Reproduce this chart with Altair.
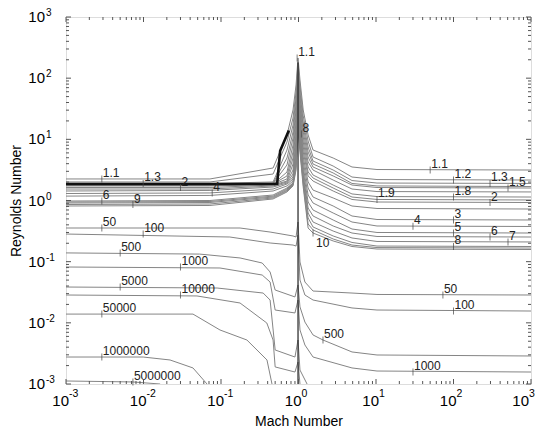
import altair as alt
import pandas as pd

# ---------------- data ----------------
# upper family of contours (levels 1.1 ... 10), shared Mach grid
mach_upper = [0.001, 0.072, 0.47, 0.71, 0.85, 0.93, 0.986, 1.045, 1.15, 1.33, 1.54, 2.8, 4.9, 10.3, 1000]
re_1_1 = [2.25, 2.25, 3.40, 11.8, 30.2, 77.3, 214, 93.3, 30.2, 11.8, 6.69, 4.95, 3.53, 3.21, 3.15]
re_1_2 = [2.01, 2.01, 2.71, 9.04, 22.3, 59.4, 184, 74.4, 24.1, 9.39, 5.14, 3.66, 2.42, 2.20, 2.16]
re_1_3 = [1.90, 1.90, 2.01, 6.69, 17.1, 47.4, 158, 59.4, 19.2, 7.49, 4.42, 3.15, 2.12, 1.93, 1.90]
re_1_4 = [1.86, 1.86, 1.93, 4.95, 13.2, 37.8, 136, 49.2, 15.9, 6.21, 3.95, 2.82, 1.90, 1.73, 1.69]
re_1_5 = [1.83, 1.83, 1.90, 3.81, 10.5, 30.2, 117, 40.8, 13.2, 5.14, 3.53, 2.52, 1.79, 1.63, 1.60]
re_1_6 = [1.79, 1.79, 1.86, 2.92, 8.08, 24.1, 101, 33.8, 10.9, 4.26, 3.15, 2.16, 1.54, 1.40, 1.38]
re_1_8 = [1.76, 1.76, 1.86, 2.52, 6.21, 19.2, 86.5, 28.0, 9.04, 3.53, 2.61, 1.79, 1.28, 1.16, 1.14]
re_1_9 = [1.73, 1.73, 1.83, 2.25, 4.95, 15.3, 74.4, 24.1, 7.49, 2.92, 2.33, 1.60, 1.14, 1.04, 1.02]
re_2 = [1.63, 1.63, 1.79, 2.08, 3.95, 12.2, 64.0, 20.7, 6.21, 2.52, 2.08, 1.43, 1.04, 0.945, 0.927]
re_2_5 = [1.54, 1.54, 1.73, 2.01, 3.15, 9.75, 53.0, 17.8, 5.14, 2.01, 1.48, 1.10, 0.813, 0.740, 0.726]
re_3 = [1.43, 1.46, 1.66, 1.93, 2.71, 7.78, 43.9, 15.3, 4.26, 1.60, 1.14, 0.813, 0.558, 0.489, 0.480]
re_4 = [1.30, 1.33, 1.54, 1.86, 2.42, 6.69, 36.4, 13.2, 3.53, 1.23, 0.910, 0.625, 0.445, 0.383, 0.376]
re_5 = [1.18, 1.21, 1.43, 1.73, 2.25, 5.76, 30.2, 11.3, 3.04, 0.945, 0.699, 0.480, 0.342, 0.300, 0.294]
re_6 = [0.981, 1.00, 1.23, 1.60, 2.08, 4.95, 25.9, 9.75, 2.61, 0.754, 0.558, 0.383, 0.294, 0.258, 0.253]
re_7 = [0.945, 0.963, 1.18, 1.54, 1.93, 4.42, 22.3, 8.71, 2.33, 0.625, 0.445, 0.317, 0.244, 0.214, 0.210]
re_8 = [0.910, 0.927, 1.14, 1.48, 1.86, 3.95, 19.2, 7.78, 2.08, 0.518, 0.369, 0.263, 0.206, 0.180, 0.177]
re_9 = [0.860, 0.877, 1.10, 1.43, 1.79, 3.53, 16.5, 6.95, 1.86, 0.413, 0.330, 0.235, 0.187, 0.170, 0.167]
re_10 = [0.813, 0.829, 1.06, 1.38, 1.73, 3.15, 14.2, 6.21, 1.66, 0.355, 0.294, 0.218, 0.177, 0.161, 0.158]

# the bold (dark) contour on the subsonic side
mach_bold = [0.001, 0.53, 0.58, 0.75]
re_bold = [1.86, 1.86, 6.5, 14.0]

# lower family of contours (levels 50 ... 5000000)
mach_50 = [0.001, 0.176, 0.43, 0.85, 0.93, 0.986, 1.045, 1.21, 1.54, 4.9, 10.3, 1000]
re_50 = [0.355, 0.355, 0.305, 0.263, 0.253, 0.445, 0.0988, 0.0465, 0.0331, 0.0307, 0.0291, 0.0285]
mach_100 = [0.001, 0.13, 0.43, 0.85, 0.93, 0.986, 1.045, 1.21, 1.54, 4.9, 10.3, 1000]
re_100 = [0.283, 0.253, 0.202, 0.187, 0.180, 0.273, 0.0501, 0.0285, 0.0236, 0.0175, 0.0162, 0.0156]
mach_500 = [0.001, 0.053, 0.176, 0.34, 0.43, 0.50, 0.90, 0.986, 1.045, 1.21, 1.54, 2.07, 4.9, 10.3, 1000]
re_500 = [0.139, 0.133, 0.115, 0.0951, 0.0678, 0.0344, 0.0265, 0.0416, 0.0182, 0.0103, 0.00633, 0.00524, 0.00334, 0.00298, 0.00287]
mach_1000 = [0.001, 0.097, 0.34, 0.43, 0.50, 0.90, 0.986, 1.045, 1.21, 1.54, 4.9, 10.3, 1000]
re_1000 = [0.0818, 0.0788, 0.0605, 0.0465, 0.0162, 0.0145, 0.0236, 0.00764, 0.00434, 0.00276, 0.00183, 0.00163, 0.00157]
mach_5000 = [0.001, 0.089, 0.35, 0.43, 0.50, 0.90, 0.986, 1.045, 1.29]
re_5000 = [0.0385, 0.0371, 0.0307, 0.0236, 0.00360, 0.00276, 0.00524, 0.00169, 0.001]
mach_10000 = [0.001, 0.049, 0.176, 0.39, 0.47, 0.50, 0.90, 0.986, 1.045]
re_10000 = [0.0285, 0.0275, 0.0211, 0.00994, 0.00524, 0.00190, 0.00157, 0.00229, 0.001]
mach_50000 = [0.001, 0.0435, 0.097, 0.216, 0.392, 0.455]
re_50000 = [0.0139, 0.0139, 0.00764, 0.00524, 0.00247, 0.001]
mach_1e6 = [0.001, 0.0099, 0.022, 0.0435, 0.066]
re_1e6 = [0.00276, 0.00276, 0.00247, 0.00183, 0.001]
mach_5e6 = [0.001, 0.0073, 0.0164]
re_5e6 = [0.00112, 0.00108, 0.001]

# the dense sonic line
mach_sonic = [0.986, 0.986]
re_sonic = [0.001, 180]

# contour labels
label_text = ["1.1", "1.3", "2", "4", "6", "9",
              "1.1", "8",
              "1.1", "1.2", "1.3", "1.5", "1.8", "1.9", "2", "3", "4", "5", "6", "7", "8",
              "50", "100", "500", "1000", "5000", "10000", "50000", "1000000", "5000000",
              "50", "100", "500", "1000"]
label_mach = [0.0029, 0.0099, 0.03, 0.077, 0.0029, 0.0073,
              0.96, 1.09,
              50, 100, 296, 505, 100, 10.3, 296, 100, 30, 100, 296, 505, 100,
              0.0029, 0.0099, 0.005, 0.03, 0.005, 0.03, 0.0029, 0.0029, 0.0073,
              73, 100, 2.07, 30]
label_re = [2.25, 1.90, 1.63, 1.33, 0.981, 0.860,
            214, 12.2,
            3.15, 2.16, 1.90, 1.60, 1.14, 1.04, 0.927, 0.480, 0.380, 0.294, 0.253, 0.210, 0.177,
            0.355, 0.283, 0.139, 0.0818, 0.0385, 0.0285, 0.0139, 0.00276, 0.00108,
            0.0285, 0.0156, 0.00524, 0.00157]
label10_mach = [1.54]
label10_re = [0.294]

# axes
decade_exp = [-3, -2, -1, 0, 1, 2, 3]
minor_mult = [2, 3, 4, 5, 6, 7, 8, 9]

# ---------------- assemble tables ----------------
upper = [("1.1", re_1_1), ("1.2", re_1_2), ("1.3", re_1_3), ("1.4", re_1_4), ("1.5", re_1_5),
         ("1.6", re_1_6), ("1.8", re_1_8), ("1.9", re_1_9), ("2", re_2), ("2.5", re_2_5),
         ("3", re_3), ("4", re_4), ("5", re_5), ("6", re_6), ("7", re_7), ("8", re_8),
         ("9", re_9), ("10", re_10)]
lower = [("50", mach_50, re_50), ("100", mach_100, re_100), ("500", mach_500, re_500),
         ("1000", mach_1000, re_1000), ("5000", mach_5000, re_5000),
         ("10000", mach_10000, re_10000), ("50000", mach_50000, re_50000),
         ("1000000", mach_1e6, re_1e6), ("5000000", mach_5e6, re_5e6)]

rows = []
for lev, res in upper:
    for i, (m, r) in enumerate(zip(mach_upper, res)):
        rows.append({"level": "u" + lev, "M": m, "Re": r, "i": i})
for lev, ms, res in lower:
    for i, (m, r) in enumerate(zip(ms, res)):
        rows.append({"level": "l" + lev, "M": m, "Re": r, "i": i})
lines_df = pd.DataFrame(rows)
bold_df = pd.DataFrame({"M": mach_bold, "Re": re_bold, "i": list(range(len(mach_bold)))})
sonic_df = pd.DataFrame({"M": mach_sonic, "Re": re_sonic, "i": [0, 1]})
labels_df = pd.DataFrame({"t": label_text, "M": label_mach, "Re": label_re})
label10_df = pd.DataFrame({"t": ["10"], "M": label10_mach, "Re": label10_re})

dec_df = pd.DataFrame({"v": [10.0 ** e for e in decade_exp],
                       "exp": [str(e) for e in decade_exp]})
dec_inner_df = dec_df.iloc[:-1]
dec_last_df = dec_df.iloc[-1:]
minor_df = pd.DataFrame({"v": [k * 10.0 ** e for e in decade_exp[:-1] for k in minor_mult]})

W, H = 465, 367
FONT = "Liberation Sans"
GREY = "#858585"
AX = "#555555"

xs = alt.Scale(type="log", domain=[0.001, 1000], nice=False)
ys = alt.Scale(type="log", domain=[0.001, 1000], nice=False)

x_axis = alt.Axis(title="Mach Number", labels=False, ticks=False, domain=False, grid=False,
                  titleFont=FONT, titleFontSize=14, titleFontWeight="normal", titleColor="black",
                  titleY=41, titleBaseline="alphabetic")
y_axis = alt.Axis(title="Reynolds Number", labels=False, ticks=False, domain=False, grid=False,
                  titleFont=FONT, titleFontSize=14, titleFontWeight="normal", titleColor="black",
                  titleX=-46, titleBaseline="alphabetic")

lines = alt.Chart(lines_df).mark_line(color=GREY, strokeWidth=1, clip=True).encode(
    x=alt.X("M:Q", scale=xs, axis=x_axis),
    y=alt.Y("Re:Q", scale=ys, axis=y_axis),
    detail="level:N",
    order="i:Q",
)
bold = alt.Chart(bold_df).mark_line(color="#111111", strokeWidth=2.6, clip=True).encode(
    x=alt.X("M:Q", scale=xs), y=alt.Y("Re:Q", scale=ys), order="i:Q")
sonic = alt.Chart(sonic_df).mark_line(color="#222222", strokeWidth=1.2, clip=True).encode(
    x=alt.X("M:Q", scale=xs), y=alt.Y("Re:Q", scale=ys), order="i:Q")

lab_ticks = alt.Chart(pd.concat([labels_df, label10_df])).mark_tick(
    orient="vertical", size=7, thickness=1, color="#444444").encode(
    x=alt.X("M:Q", scale=xs), y=alt.Y("Re:Q", scale=ys))
lab_text = alt.Chart(labels_df).mark_text(
    align="left", baseline="alphabetic", dx=1, dy=-2, font=FONT, fontSize=12, color="#222222").encode(
    x=alt.X("M:Q", scale=xs), y=alt.Y("Re:Q", scale=ys), text="t:N")
lab10_text = alt.Chart(label10_df).mark_text(
    align="left", baseline="top", dx=3, dy=5, font=FONT, fontSize=12, color="#222222").encode(
    x=alt.X("M:Q", scale=xs), y=alt.Y("Re:Q", scale=ys), text="t:N")

# tick labels 10^n
def xlabels(df, shift):
    ten = alt.Chart(df).mark_text(align="right", baseline="alphabetic", dx=3 + shift, font=FONT,
                                   fontSize=15, color="black").encode(
        x=alt.X("v:Q", scale=xs), y=alt.value(H + 22), text=alt.value("10"))
    ex = alt.Chart(df).mark_text(align="left", baseline="alphabetic", dx=3 + shift, font=FONT,
                                  fontSize=10.5, color="black").encode(
        x=alt.X("v:Q", scale=xs), y=alt.value(H + 13), text="exp:N")
    return ten + ex

yl_ten = alt.Chart(dec_df).mark_text(align="right", baseline="middle", font=FONT,
                                      fontSize=15, color="black").encode(
    y=alt.Y("v:Q", scale=ys), x=alt.value(-21), text=alt.value("10"))
yl_exp = alt.Chart(dec_df).mark_text(align="left", baseline="middle", dy=-4, font=FONT,
                                      fontSize=10, color="black").encode(
    y=alt.Y("v:Q", scale=ys), x=alt.value(-20), text="exp:N")

# inward axis ticks on all four sides
def xticks(df, length):
    b = alt.Chart(df).mark_rule(color=AX, strokeWidth=1).encode(
        x=alt.X("v:Q", scale=xs), y=alt.value(H), y2=alt.value(H - length))
    t = alt.Chart(df).mark_rule(color=AX, strokeWidth=1).encode(
        x=alt.X("v:Q", scale=xs), y=alt.value(0), y2=alt.value(length))
    return b + t

def yticks(df, length):
    l = alt.Chart(df).mark_rule(color=AX, strokeWidth=1).encode(
        y=alt.Y("v:Q", scale=ys), x=alt.value(0), x2=alt.value(length))
    r = alt.Chart(df).mark_rule(color=AX, strokeWidth=1).encode(
        y=alt.Y("v:Q", scale=ys), x=alt.value(W), x2=alt.value(W - length))
    return l + r

chart = alt.layer(
    lines, bold, sonic, lab_ticks, lab_text, lab10_text,
    xticks(dec_df, 5), xticks(minor_df, 3), yticks(dec_df, 5), yticks(minor_df, 3),
    xlabels(dec_inner_df, 0), xlabels(dec_last_df, -5), yl_ten, yl_exp,
).properties(
    width=W, height=H,
    autosize=alt.AutoSizeParams(type="none"),
    padding={"left": 58, "top": 9, "right": 6, "bottom": 44},
).configure_view(stroke=AX, strokeWidth=1).configure(background="white")

chart.save("out.html", embed_options={"renderer": "svg", "actions": False})
